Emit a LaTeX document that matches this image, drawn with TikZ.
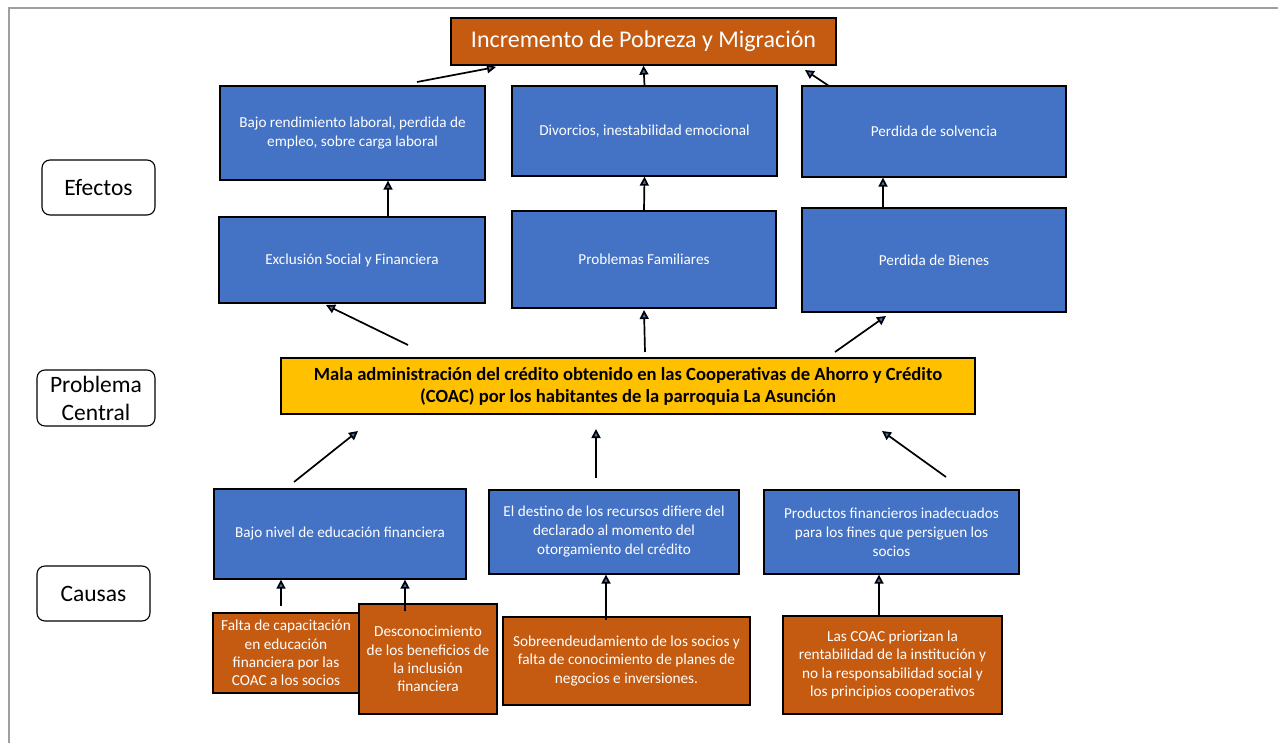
\documentclass[tikz,border=0pt]{standalone}
\usepackage{fontspec}
\setmainfont{Carlito}
\usetikzlibrary{arrows.meta}
\definecolor{boxblue}{HTML}{4472C4}
\definecolor{boxorange}{HTML}{C55A11}
\definecolor{boxyellow}{HTML}{FFC000}
\tikzset{
  base/.style={draw=black, line width=1.3pt, inner sep=1pt, align=center, text=white},
  bluebox/.style={base, fill=boxblue, font=\fontsize{15.2}{19}\selectfont},
  orangebox/.style={base, fill=boxorange, font=\fontsize{15.3}{18.4}\selectfont},
  titlebox/.style={base, fill=boxorange, font=\fontsize{24}{26}\selectfont},
  corebox/.style={base, fill=boxyellow, text=black, font=\bfseries\fontsize{18.6}{22}\selectfont},
  tagbox/.style={draw=black, line width=1.1pt, rounded corners=8pt, align=center, font=\fontsize{23.5}{28}\selectfont},
  arr/.style={line width=1.7pt, -{Triangle[length=9pt,width=9pt,fill=boxblue]}}
}
\begin{document}
\begin{tikzpicture}[x=1pt,y=-1pt]
\useasboundingbox (0,0) rectangle (1278,743);
% page frame
\draw[gray!75, line width=1.3pt] (9,743) -- (9,8) -- (1278,8);

% row labels
\node[tagbox, minimum width=113, minimum height=55] (tEf) at (98.5,187.5) {Efectos};
\node[tagbox, minimum width=118, minimum height=56, inner sep=0pt] (tPc) at (96,398) {Problema\\Central};
\node[tagbox, minimum width=113, minimum height=55] (tCa) at (93.5,593.5) {Causas};

% top effect
\node[titlebox, minimum width=385, minimum height=47] (top) at (643.5,41.5) {Incremento de Pobreza y Migración};

% effects
\node[bluebox, minimum width=265, minimum height=94] (A) at (352.5,133) {Bajo rendimiento laboral, perdida de\\empleo, sobre carga laboral};
\node[bluebox, minimum width=265, minimum height=90] (B) at (644.5,131) {Divorcios, inestabilidad emocional};
\node[bluebox, minimum width=264, minimum height=91] (C) at (934,131.5) {Perdida de solvencia};
\node[bluebox, minimum width=266, minimum height=86] (D) at (352,260) {Exclusión Social y Financiera};
\node[bluebox, minimum width=264, minimum height=97] (E) at (644,259.5) {Problemas Familiares};
\node[bluebox, minimum width=264, minimum height=104] (F) at (934,260) {Perdida de Bienes};

% central problem
\node[corebox, minimum width=694, minimum height=56] (core) at (628,386) {Mala administración del crédito obtenido en las Cooperativas de Ahorro y Crédito\\(COAC) por los habitantes de la parroquia La Asunción};

% causes
\node[bluebox, minimum width=252, minimum height=90] (G) at (340,534) {Bajo nivel de educación financiera};
\node[bluebox, minimum width=250, minimum height=84] (H) at (614,532) {El destino de los recursos difiere del\\declarado al momento del\\otorgamiento del crédito};
\node[bluebox, minimum width=255, minimum height=84] (K) at (891.5,532) {Productos financieros inadecuados\\para los fines que persiguen los\\socios};

% root causes
\node[orangebox, minimum width=146, minimum height=80] (S1) at (286,653) {Falta de capacitación\\en educación\\financiera por las\\COAC a los socios};
\node[orangebox, minimum width=138, minimum height=110] (S2) at (428,659) {Desconocimiento\\de los beneficios de\\la inclusión\\financiera};
\node[orangebox, minimum width=247, minimum height=88] (S3) at (626.5,661) {Sobreendeudamiento de los socios y\\falta de conocimiento de planes de\\negocios e inversiones.};
\node[orangebox, minimum width=219, minimum height=98] (S4) at (892.5,665) {Las COAC priorizan la\\rentabilidad de la institución y\\no la responsabilidad social y\\los principios cooperativos};

% free ends of the connectors
\coordinate (pA) at (417,82);   \coordinate (qA) at (496,67);
\coordinate (pC) at (829,86);   \coordinate (qC) at (805,70);
\coordinate (pD) at (408,345);  \coordinate (qD) at (326,305);
\coordinate (pF) at (835,352);  \coordinate (qF) at (886,316);
\coordinate (pG) at (294,482);  \coordinate (qG) at (358,431);
\coordinate (pK) at (946,477);  \coordinate (qK) at (882,431);
\coordinate (pE) at (645,352);  \coordinate (qE) at (644,310);
\coordinate (pH) at (596,478);  \coordinate (qH) at (596,429);
\coordinate (pS1) at (281,606); \coordinate (pS2) at (405,611);
\coordinate (pS3) at (606,620);
\coordinate (x388) at (388,0);  \coordinate (x883) at (883,0);
\coordinate (x281) at (281,0);  \coordinate (x405) at (405,0);
\coordinate (x606) at (606,0);  \coordinate (x879) at (879,0);

% connectors
\draw[arr] (pA) -- (qA);
\draw[arr] (B.north) -- (top.south);
\draw[arr] (pC) -- (qC);
\draw[arr] (x388 |- D.north) -- (x388 |- A.south);
\draw[arr] (E.north) -- (B.south);
\draw[arr] (x883 |- F.north) -- (x883 |- C.south);
\draw[arr] (pD) -- (qD);
\draw[arr] (pE) -- (qE);
\draw[arr] (pF) -- (qF);
\draw[arr] (pG) -- (qG);
\draw[arr] (pH) -- (qH);
\draw[arr] (pK) -- (qK);
\draw[arr] (pS1) -- (x281 |- G.south);
\draw[arr] (pS2) -- (x405 |- G.south);
\draw[arr] (pS3) -- (x606 |- H.south);
\draw[arr] (x879 |- S4.north) -- (x879 |- K.south);
\end{tikzpicture}
\end{document}
